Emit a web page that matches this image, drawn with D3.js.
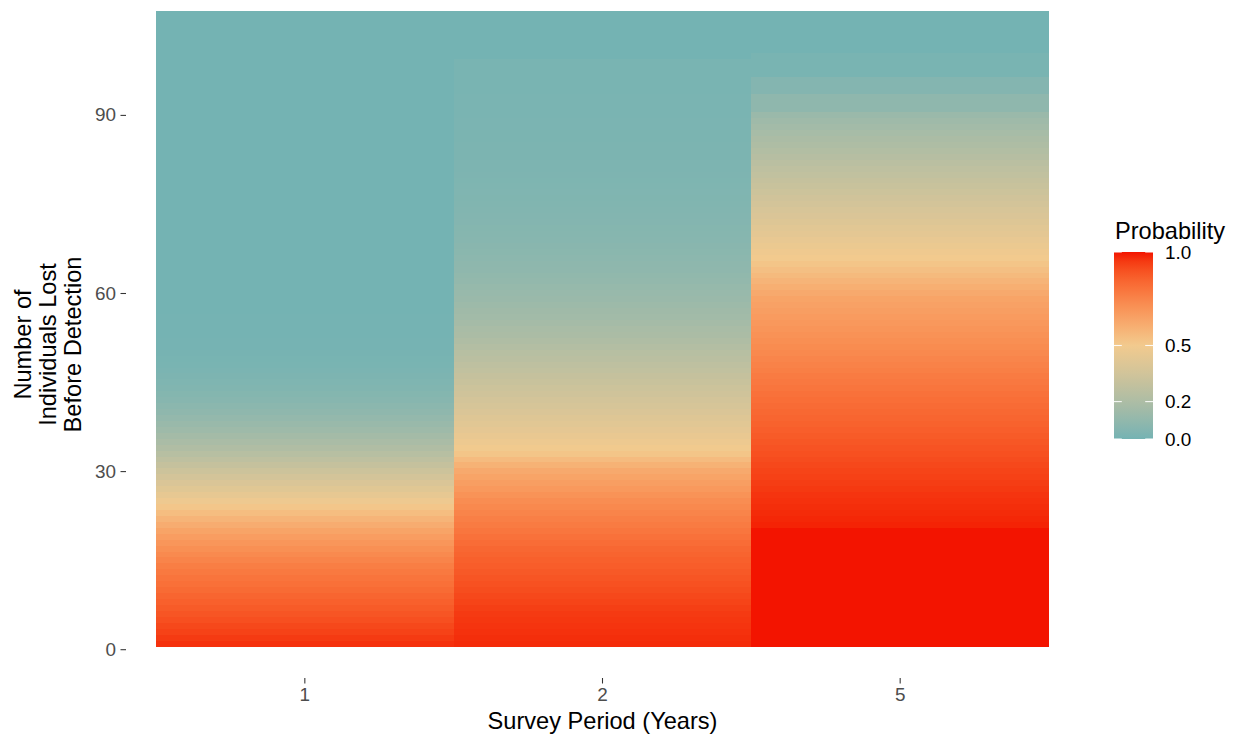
<!DOCTYPE html>
<html>
<head>
<meta charset="utf-8">
<script src="https://cdn.jsdelivr.net/npm/d3@7"></script>
<style>
  html, body { margin: 0; padding: 0; background: #ffffff; }
  svg { display: block; font-family: "Liberation Sans", Arial, Helvetica, sans-serif; }
</style>
</head>
<body>
<svg id="chart" width="1239" height="740"></svg>
<script>
// Survey periods (years) shown as columns
const periods = ["1", "2", "5"];

// Number of individuals lost before detection (row index for each tile)
const individualsLost = d3.range(1, 108);

// Probability for each number lost, one array per survey period
const probPeriod1 = [
  0.965, 0.95, 0.935, 0.92, 0.905, 0.89, 0.875, 0.86, 0.845, 0.83,
  0.815, 0.80, 0.785, 0.77, 0.75, 0.73, 0.71, 0.69, 0.665, 0.64,
  0.61, 0.58, 0.55, 0.515, 0.48, 0.45, 0.42, 0.39, 0.36, 0.33,
  0.30, 0.27, 0.24, 0.215, 0.19, 0.165, 0.145, 0.125, 0.105, 0.09,
  0.075, 0.062, 0.051, 0.042, 0.034, 0.027, 0.021, 0.016, 0.012, 0.009,
  0.007, 0.005, 0.004, 0.003, 0.002, 0.002, 0.001, 0.001, 0, 0,
  0, 0, 0, 0, 0, 0, 0, 0, 0, 0,
  0, 0, 0, 0, 0, 0, 0, 0, 0, 0,
  0, 0, 0, 0, 0, 0, 0, 0, 0, 0,
  0, 0, 0, 0, 0, 0, 0, 0, 0, 0,
  0, 0, 0, 0, 0, 0, 0
];

const probPeriod2 = [
  0.975, 0.97, 0.965, 0.96, 0.955, 0.95, 0.94, 0.93, 0.92, 0.91,
  0.90, 0.89, 0.88, 0.87, 0.86, 0.85, 0.84, 0.825, 0.81, 0.795,
  0.78, 0.765, 0.75, 0.735, 0.72, 0.70, 0.68, 0.66, 0.64, 0.62,
  0.59, 0.555, 0.52, 0.495, 0.475, 0.457, 0.44, 0.425, 0.41, 0.39,
  0.375, 0.36, 0.345, 0.33, 0.315, 0.30, 0.285, 0.27, 0.255, 0.24,
  0.225, 0.21, 0.195, 0.185, 0.17, 0.16, 0.15, 0.14, 0.13, 0.12,
  0.112, 0.104, 0.097, 0.09, 0.084, 0.078, 0.072, 0.067, 0.062, 0.058,
  0.054, 0.050, 0.047, 0.044, 0.041, 0.038, 0.036, 0.034, 0.032, 0.030,
  0.028, 0.027, 0.026, 0.025, 0.024, 0.023, 0.022, 0.021, 0.020, 0.019,
  0.018, 0.017, 0.017, 0.016, 0.016, 0.015, 0.015, 0.014, 0.014, 0,
  0, 0, 0, 0, 0, 0, 0
];

const probPeriod5 = [
  1, 1, 1, 1, 1, 1, 1, 1, 1, 1,
  1, 1, 1, 1, 1, 1, 1, 1, 1, 1,
  0.985, 0.98, 0.975, 0.97, 0.965, 0.96, 0.952, 0.945, 0.937, 0.93,
  0.921, 0.912, 0.903, 0.894, 0.885, 0.875, 0.865, 0.856, 0.847, 0.838,
  0.829, 0.82, 0.81, 0.799, 0.788, 0.778, 0.767, 0.757, 0.746, 0.735,
  0.725, 0.714, 0.704, 0.693, 0.683, 0.672, 0.661, 0.65, 0.64, 0.62,
  0.60, 0.58, 0.56, 0.54, 0.52, 0.50, 0.485, 0.47, 0.454, 0.438,
  0.423, 0.407, 0.392, 0.377, 0.361, 0.346, 0.330, 0.315, 0.300, 0.284,
  0.269, 0.253, 0.238, 0.223, 0.207, 0.192, 0.176, 0.161, 0.146, 0.130,
  0.09, 0.09, 0.09, 0.05, 0.05, 0.05, 0.015, 0.015, 0.015, 0.015,
  0, 0, 0, 0, 0, 0, 0
];

// Axis and legend breaks
const yTicks = [0, 30, 60, 90];
const legendBreaks = [0, 0.2, 0.5, 1.0];

// Tile table built from the arrays above
const seriesByPeriod = { "1": probPeriod1, "2": probPeriod2, "5": probPeriod5 };
const tiles = [];
periods.forEach(p => {
  individualsLost.forEach((n, i) => {
    tiles.push({ period: p, n: n, prob: seriesByPeriod[p][i] });
  });
});

const svg = d3.select("#chart");

// Panel geometry
const panel = { left: 126, right: 1079, top: 11, bottom: 678 };
const tickFont = "18.9px";
const titleFont = "23.6px";

const x = d3.scaleBand()
  .domain(periods)
  .range([156, 1049])
  .padding(0);

const y = d3.scaleLinear()
  .domain([-4.85, 107.5])
  .range([panel.bottom, panel.top]);

const color = d3.scaleLinear()
  .domain([0, 0.5, 1])
  .range(["#74B3B3", "#F2CA8E", "#F31400"])
  .interpolate(d3.interpolateLab);

// Heat tiles
svg.append("g")
  .attr("class", "tiles")
  .selectAll("rect")
  .data(tiles)
  .join("rect")
  .attr("x", d => x(d.period))
  .attr("width", x.bandwidth())
  .attr("y", d => y(d.n + 0.5))
  .attr("height", d => y(d.n - 0.5) - y(d.n + 0.5) + 0.3)
  .attr("fill", d => color(d.prob))
  .attr("shape-rendering", "crispEdges");

// Y axis
const yAxis = svg.append("g")
  .attr("transform", `translate(${panel.left},0)`)
  .call(d3.axisLeft(y).tickValues(yTicks).tickSize(5.5).tickPadding(4.4).tickFormat(d3.format("d")));
yAxis.select(".domain").remove();
yAxis.selectAll(".tick line").attr("stroke", "#333333").attr("stroke-width", 1.07);
yAxis.selectAll(".tick text")
  .attr("fill", "#4D4D4D")
  .style("font-size", tickFont)
  .style("font-family", "\"Liberation Sans\", Arial, sans-serif");

// X axis
const xAxis = svg.append("g")
  .attr("transform", `translate(0,${panel.bottom})`)
  .call(d3.axisBottom(x).tickSize(5.5).tickPadding(4.4));
xAxis.select(".domain").remove();
xAxis.selectAll(".tick line").attr("stroke", "#333333").attr("stroke-width", 1.07);
xAxis.selectAll(".tick text")
  .attr("fill", "#4D4D4D")
  .style("font-size", tickFont)
  .style("font-family", "\"Liberation Sans\", Arial, sans-serif");

// Axis titles
svg.append("text")
  .attr("x", (panel.left + panel.right) / 2)
  .attr("y", 729)
  .attr("text-anchor", "middle")
  .attr("fill", "#000000")
  .style("font-size", titleFont)
  .text("Survey Period (Years)");

const yTitleLines = ["Number of", "Individuals Lost", "Before Detection"];
const yTitle = svg.append("text")
  .attr("transform", `translate(0,${(panel.top + panel.bottom) / 2}) rotate(-90)`)
  .attr("text-anchor", "middle")
  .attr("fill", "#000000")
  .style("font-size", titleFont);
yTitleLines.forEach((line, i) => {
  yTitle.append("tspan")
    .attr("x", 0)
    .attr("y", 31 + i * 25)
    .text(line);
});

// Colour bar legend
const legend = { x: 1114, width: 39, top: 252, bottom: 439 };
const ly = d3.scaleLinear().domain([0, 1]).range([legend.bottom, legend.top]);

const defs = svg.append("defs");
const grad = defs.append("linearGradient")
  .attr("id", "probGradient")
  .attr("x1", 0).attr("y1", 1)
  .attr("x2", 0).attr("y2", 0);
d3.range(0, 1.0001, 0.05).forEach(t => {
  grad.append("stop")
    .attr("offset", t)
    .attr("stop-color", color(t));
});

svg.append("text")
  .attr("x", 1115)
  .attr("y", 239)
  .attr("fill", "#000000")
  .style("font-size", titleFont)
  .text("Probability");

svg.append("rect")
  .attr("x", legend.x)
  .attr("y", legend.top)
  .attr("width", legend.width)
  .attr("height", legend.bottom - legend.top)
  .attr("fill", "url(#probGradient)");

const tickLen = legend.width / 5;
const legendTicks = svg.append("g").attr("class", "legend-ticks");
legendBreaks.forEach(b => {
  const yy = ly(b);
  legendTicks.append("line")
    .attr("x1", legend.x).attr("x2", legend.x + tickLen)
    .attr("y1", yy).attr("y2", yy)
    .attr("stroke", "#ffffff").attr("stroke-width", 1.1).attr("stroke-opacity", 0.9);
  legendTicks.append("line")
    .attr("x1", legend.x + legend.width - tickLen).attr("x2", legend.x + legend.width)
    .attr("y1", yy).attr("y2", yy)
    .attr("stroke", "#ffffff").attr("stroke-width", 1.1).attr("stroke-opacity", 0.9);
  svg.append("text")
    .attr("x", 1165)
    .attr("y", yy)
    .attr("dy", "0.36em")
    .attr("fill", "#000000")
    .style("font-size", tickFont)
    .text(d3.format(".1f")(b));
});
</script>
</body>
</html>
